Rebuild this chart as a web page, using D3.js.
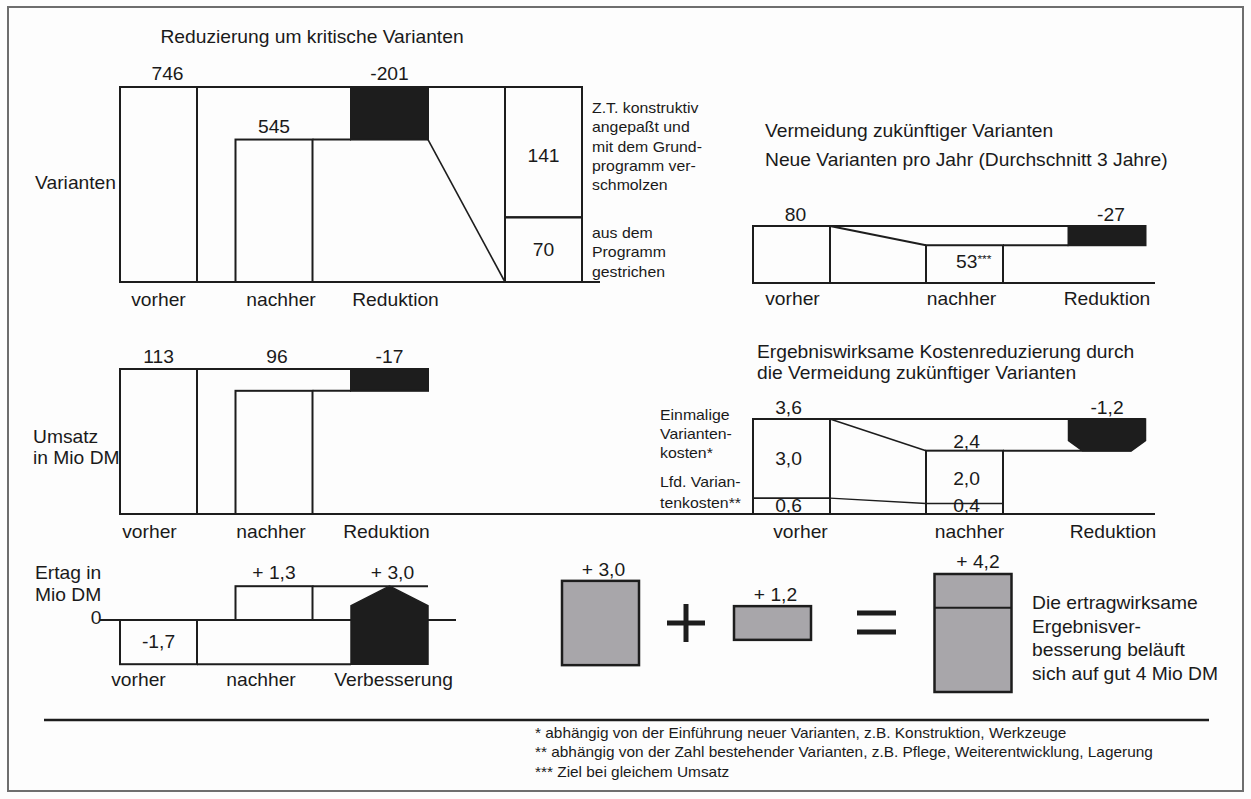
<!DOCTYPE html>
<html>
<head>
<meta charset="utf-8">
<script src="https://cdn.jsdelivr.net/npm/d3@7"></script>
<style>
  html, body { margin: 0; padding: 0; background: #fdfdfd; }
  svg { display: block; font-family: "Liberation Sans", Arial, Helvetica, sans-serif; }
</style>
</head>
<body>
<svg id="chart" width="1251" height="799"></svg>
<script>
// ---- Reduzierung um kritische Varianten -------------------------------
const variantCategories = ["vorher", "nachher", "Reduktion"];
const variantCounts = [746, 545, -201];
const removedSplit = [141, 70];
const removedSplitNotes = [
  ["Z.T. konstruktiv", "angepaßt und", "mit dem Grund-", "programm ver-", "schmolzen"],
  ["aus dem", "Programm", "gestrichen"]
];

// ---- Neue Varianten pro Jahr (Durchschnitt 3 Jahre) -------------------
const newVariantCategories = ["vorher", "nachher", "Reduktion"];
const newVariantCounts = [80, 53, -27];

// ---- Umsatz in Mio DM --------------------------------------------------
const salesCategories = ["vorher", "nachher", "Reduktion"];
const salesValues = [113, 96, -17];

// ---- Ergebniswirksame Kostenreduzierung (Mio DM) -----------------------
const costCategories = ["vorher", "nachher", "Reduktion"];
const costOneOff = [3.0, 2.0];
const costRunning = [0.6, 0.4];
const costTotals = [3.6, 2.4, -1.2];
const costRowLabels = [["Einmalige", "Varianten-", "kosten*"], ["Lfd. Varian-", "tenkosten**"]];

// ---- Ertrag in Mio DM --------------------------------------------------
const profitCategories = ["vorher", "nachher", "Verbesserung"];
const profitValues = [-1.7, 1.3, 3.0];

// ---- Ergebnisverbesserung ----------------------------------------------
const gainParts = [3.0, 1.2];
const gainTotal = 4.2;
const gainNote = ["Die ertragwirksame", "Ergebnisver-", "besserung beläuft", "sich auf gut 4 Mio DM"];

const footnotes = [
  "* abhängig von der Einführung neuer Varianten, z.B. Konstruktion, Werkzeuge",
  "** abhängig von der Zahl bestehender Varianten, z.B. Pflege, Weiterentwicklung, Lagerung",
  "*** Ziel bei gleichem Umsatz"
];

// ------------------------------------------------------------------------
const de = d3.formatLocale({ decimal: ",", thousands: ".", grouping: [3], currency: ["", " DM"], minus: "-" });
const f1 = de.format(".1f");
const fInt = de.format("d");
const plus1 = v => "+ " + f1(v);

const INK = "#1d1d1d";
const SW = 2;
const BW = 77;          // bar width
const FONT = 17.5;      // main label size
const SMALL = 14.4;     // annotation size

const svg = d3.select("#chart");

function text(g, x, y, s, o = {}) {
  return g.append("text")
    .attr("transform", `translate(${x},${y}) scale(1.1,1)`)
    .attr("text-anchor", o.anchor || "middle")
    .attr("dominant-baseline", o.baseline || "auto")
    .attr("font-size", o.size || FONT)
    .attr("fill", o.fill || "#1a1a1a")
    .text(s);
}
function lines(g, x, y0, step, arr, o = {}) {
  arr.forEach((s, i) => text(g, x, y0 + i * step, s, o));
}
function box(g, x0, x1, ya, yb, fill, w) {
  return g.append("rect")
    .attr("x", x0).attr("y", Math.min(ya, yb))
    .attr("width", x1 - x0).attr("height", Math.abs(yb - ya))
    .attr("fill", fill || "none")
    .attr("stroke", INK).attr("stroke-width", w || SW);
}
function path(g, pts, w, fill) {
  return g.append("path")
    .attr("d", d3.line()(pts) + (fill ? "Z" : ""))
    .attr("fill", fill || "none")
    .attr("stroke", INK).attr("stroke-width", w || SW)
    .attr("stroke-linejoin", "miter");
}

// page frame
svg.append("rect").attr("x", 8).attr("y", 7).attr("width", 1235).attr("height", 784)
  .attr("fill", "#fdfdfd").attr("stroke", "#6e6e6e").attr("stroke-width", 2);

// ======================= Varianten ======================================
{
  const g = svg.append("g");
  const x = d3.scaleOrdinal(variantCategories, [120, 235.5, 351]);
  const y = d3.scaleLinear().domain([0, 746]).range([282, 87]);
  const [before, after, delta] = variantCounts;
  const boxX = 505;
  const ys = d3.scaleLinear().domain([0, d3.sum(removedSplit)]).range([y(0), y(before)]);

  text(g, 312, 43, "Reduzierung um kritische Varianten");
  text(g, 116, 189, "Varianten", { anchor: "end" });

  path(g, [[120, y(0)], [600, y(0)]]);
  path(g, [[x("vorher"), y(before)], [boxX + BW, y(before)]]);
  box(g, x("vorher"), x("vorher") + BW, y(before), y(0));
  box(g, x("nachher"), x("nachher") + BW, y(after), y(0));
  path(g, [[x("nachher") + BW, y(after)], [x("Reduktion"), y(after)]]);
  box(g, x("Reduktion"), x("Reduktion") + BW, y(before), y(before + delta), INK);
  path(g, [[x("Reduktion") + BW, y(before + delta)], [boxX, y(0)]], 1.6);

  // breakdown of the removed variants
  const [adapted, dropped] = removedSplit;
  box(g, boxX, boxX + BW, ys(dropped), ys(dropped + adapted));
  box(g, boxX, boxX + BW, ys(0), ys(dropped));
  text(g, boxX + BW / 2, (ys(dropped) + ys(dropped + adapted)) / 2 + 4, fInt(adapted), { baseline: "central" });
  text(g, boxX + BW / 2, (ys(0) + ys(dropped)) / 2, fInt(dropped), { baseline: "central" });
  lines(g, 592, 113, 19.3, removedSplitNotes[0], { anchor: "start", size: SMALL });
  lines(g, 592, 238, 19.3, removedSplitNotes[1], { anchor: "start", size: SMALL });

  const lx = [9, 0, 0];
  variantCounts.forEach((v, i) => {
    const c = variantCategories[i];
    const top = i === 2 ? y(before) : y(v);
    text(g, x(c) + BW / 2 + lx[i], top - 7, fInt(v));
  });
  const cx = [0, 7, 6];
  variantCategories.forEach((c, i) => text(g, x(c) + BW / 2 + cx[i], 306, c));
}

// ======================= Neue Varianten pro Jahr =========================
{
  const g = svg.append("g");
  const x = d3.scaleOrdinal(newVariantCategories, [753, 926, 1068.5]);
  const y = d3.scaleLinear().domain([0, 80]).range([283, 226]);
  const [before, after, delta] = newVariantCounts;

  text(g, 765, 137, "Vermeidung zukünftiger Varianten", { anchor: "start" });
  text(g, 765, 166, "Neue Varianten pro Jahr (Durchschnitt 3 Jahre)", { anchor: "start" });

  path(g, [[753, y(0)], [1155, y(0)]]);
  path(g, [[x("vorher"), y(before)], [x("Reduktion") + BW, y(before)]]);
  box(g, x("vorher"), x("vorher") + BW, y(before), y(0));
  path(g, [[x("vorher") + BW, y(before)], [x("nachher"), y(after)]]);
  box(g, x("nachher"), x("nachher") + BW, y(after), y(0));
  path(g, [[x("nachher") + BW, y(after)], [x("Reduktion"), y(after)]]);
  box(g, x("Reduktion"), x("Reduktion") + BW, y(before), y(before + delta), INK);

  text(g, x("vorher") + BW / 2 + 4, y(before) - 5, fInt(before));
  text(g, x("Reduktion") + BW / 2 + 4, y(before) - 5, fInt(delta));
  const t = g.append("text")
    .attr("transform", `translate(${x("nachher") + 30},${y(0) - 15}) scale(1.1,1)`)
    .attr("font-size", FONT).attr("fill", "#1a1a1a");
  t.append("tspan").text(fInt(after));
  t.append("tspan").attr("font-size", 11).attr("dy", -5).text("***");

  const cx = [1, -3, 0];
  newVariantCategories.forEach((c, i) => text(g, x(c) + BW / 2 + cx[i], 305, c));
}

// ======================= Umsatz ==========================================
{
  const g = svg.append("g");
  const x = d3.scaleOrdinal(salesCategories, [120, 235.5, 351]);
  const y = d3.scaleLinear().domain([0, 113]).range([514, 369]);
  const [before, after, delta] = salesValues;

  lines(g, 33, 443, 21, ["Umsatz", "in Mio DM"], { anchor: "start" });

  // common baseline of the middle row
  path(g, [[120, y(0)], [1155, y(0)]]);
  path(g, [[x("vorher"), y(before)], [x("Reduktion") + BW, y(before)]]);
  box(g, x("vorher"), x("vorher") + BW, y(before), y(0));
  box(g, x("nachher"), x("nachher") + BW, y(after), y(0));
  path(g, [[x("nachher") + BW, y(after)], [x("Reduktion"), y(after)]]);
  box(g, x("Reduktion"), x("Reduktion") + BW, y(before), y(before + delta), INK);

  salesValues.forEach((v, i) => {
    const c = salesCategories[i];
    const top = i === 2 ? y(before) : y(before);
    text(g, x(c) + BW / 2 + (i === 1 ? 3 : 0), top - 6, fInt(v));
  });
  const cx = [-9, -3, -3];
  salesCategories.forEach((c, i) => text(g, x(c) + BW / 2 + cx[i], 538, c));
}

// ======================= Kostenreduzierung ===============================
{
  const g = svg.append("g");
  const x = d3.scaleOrdinal(costCategories, [753, 926, 1068.5]);
  const y = d3.scaleLinear().domain([0, 3.6]).range([514, 419]);
  const [before, after, delta] = costTotals;

  text(g, 757, 358, "Ergebniswirksame Kostenreduzierung durch", { anchor: "start" });
  text(g, 757, 379, "die Vermeidung zukünftiger Varianten", { anchor: "start" });
  lines(g, 660, 420, 19, costRowLabels[0], { anchor: "start", size: SMALL });
  lines(g, 660, 487, 21, costRowLabels[1], { anchor: "start", size: SMALL });

  path(g, [[x("vorher"), y(before)], [x("Reduktion") + BW, y(before)]]);
  // vorher: running costs below, one-off costs above
  box(g, x("vorher"), x("vorher") + BW, y(before), y(0));
  path(g, [[x("vorher"), y(costRunning[0])], [x("vorher") + BW, y(costRunning[0])]], 1.6);
  // nachher
  box(g, x("nachher"), x("nachher") + BW, y(after), y(0));
  path(g, [[x("nachher"), y(costRunning[1])], [x("nachher") + BW, y(costRunning[1])]], 1.6);
  // connecting slopes
  path(g, [[x("vorher") + BW, y(before)], [x("nachher"), y(after)]], 1.6);
  path(g, [[x("vorher") + BW, y(costRunning[0])], [x("nachher"), y(costRunning[1])]], 1.4);
  // reduction marker
  const rx0 = x("Reduktion"), rx1 = rx0 + BW, yt = y(before), yb = y(before + delta);
  path(g, [[x("nachher") + BW, yb], [rx1 - 14, yb]]);
  path(g, [[rx0, yt], [rx1, yt], [rx1, yb - 10], [rx1 - 14, yb], [rx0 + 14, yb], [rx0, yb - 10]], 1.5, INK);

  const cxv = x("vorher") + BW / 2 - 3, cxn = x("nachher") + BW / 2 + 2;
  text(g, cxv, y(before) - 5, f1(before));
  text(g, cxv, (y(before) + y(costRunning[0])) / 2, f1(costOneOff[0]), { baseline: "central" });
  text(g, cxv, 512, f1(costRunning[0]));
  text(g, cxn, y(after) - 3, f1(after));
  text(g, cxn, (y(after) + y(costRunning[1])) / 2 + 2, f1(costOneOff[1]), { baseline: "central" });
  text(g, cxn, 512, f1(costRunning[1]));
  text(g, x("Reduktion") + BW / 2, y(before) - 5, f1(delta));

  const cx = [9, 5, 6];
  costCategories.forEach((c, i) => text(g, x(c) + BW / 2 + cx[i], 538, c));
}

// ======================= Ertrag ==========================================
{
  const g = svg.append("g");
  const x = d3.scaleOrdinal(profitCategories, [120, 235.5, 351]);
  const y = d3.scaleLinear().domain([-2, 1.5]).range([672, 581]);
  const [before, after, gain] = profitValues;

  lines(g, 35, 579, 22, ["Ertag in", "Mio DM"], { anchor: "start" });
  text(g, 96, y(0) + 4, "0");

  path(g, [[100, y(0)], [456, y(0)]]);
  box(g, x("vorher"), x("vorher") + BW, y(0), y(before));
  path(g, [[x("vorher") + BW, y(before)], [x("Verbesserung"), y(before)]]);
  box(g, x("nachher"), x("nachher") + BW, y(after), y(0));
  path(g, [[x("nachher") + BW, y(after)], [x("Verbesserung") + BW, y(after)]]);
  // improvement block rising from the old to the new result
  const bx0 = x("Verbesserung"), bx1 = bx0 + BW;
  const yTop = y(before + gain), yBot = y(before);
  const shoulder = yTop + (yBot - yTop) * 0.25;
  path(g, [[bx0, yBot], [bx0, shoulder], [(bx0 + bx1) / 2, yTop], [bx1, shoulder], [bx1, yBot]], 1.5, INK);

  text(g, x("vorher") + BW / 2, (y(0) + y(before)) / 2, f1(before), { baseline: "central" });
  text(g, x("nachher") + BW / 2, y(after) - 7, plus1(after));
  text(g, bx0 + BW / 2 + 3, y(after) - 7, plus1(gain));

  const cx = [-20, -13, 4];
  profitCategories.forEach((c, i) => text(g, x(c) + BW / 2 + cx[i], 686, c));
}

// ======================= Summe der Verbesserung ==========================
{
  const g = svg.append("g");
  const h = d3.scaleLinear().domain([0, gainTotal]).range([0, 118]);
  const GRAY = "#a8a6aa";
  const mid = 623;
  const [p1, p2] = gainParts;

  box(g, 562, 562 + BW, mid - h(p1) / 2, mid + h(p1) / 2, GRAY, 2.5);
  text(g, 562 + BW / 2 + 3, mid - h(p1) / 2 - 5, plus1(p1));

  path(g, [[667, mid], [705, mid]], 5);
  path(g, [[686, mid - 19], [686, mid + 19]], 5);

  box(g, 734, 734 + BW, mid - h(p2) / 2, mid + h(p2) / 2, GRAY, 2.5);
  text(g, 734 + BW / 2 + 3, mid - h(p2) / 2 - 5, plus1(p2));

  path(g, [[857, 613], [896, 613]], 5);
  path(g, [[857, 632], [896, 632]], 5);

  const top = 574;
  box(g, 934.5, 934.5 + BW, top, top + h(gainTotal), GRAY, 2.5);
  path(g, [[934.5, top + h(p2)], [934.5 + BW, top + h(p2)]], 2);
  text(g, 934.5 + BW / 2 + 5, top - 6, plus1(gainTotal));

  lines(g, 1032, 609, 23.5, gainNote, { anchor: "start" });
}

// ======================= Fußnoten ========================================
{
  const g = svg.append("g");
  path(g, [[44, 720], [1209, 720]], 2.5);
  lines(g, 535, 737.5, 19.5, footnotes, { anchor: "start", size: 14 });
}
</script>
</body>
</html>
